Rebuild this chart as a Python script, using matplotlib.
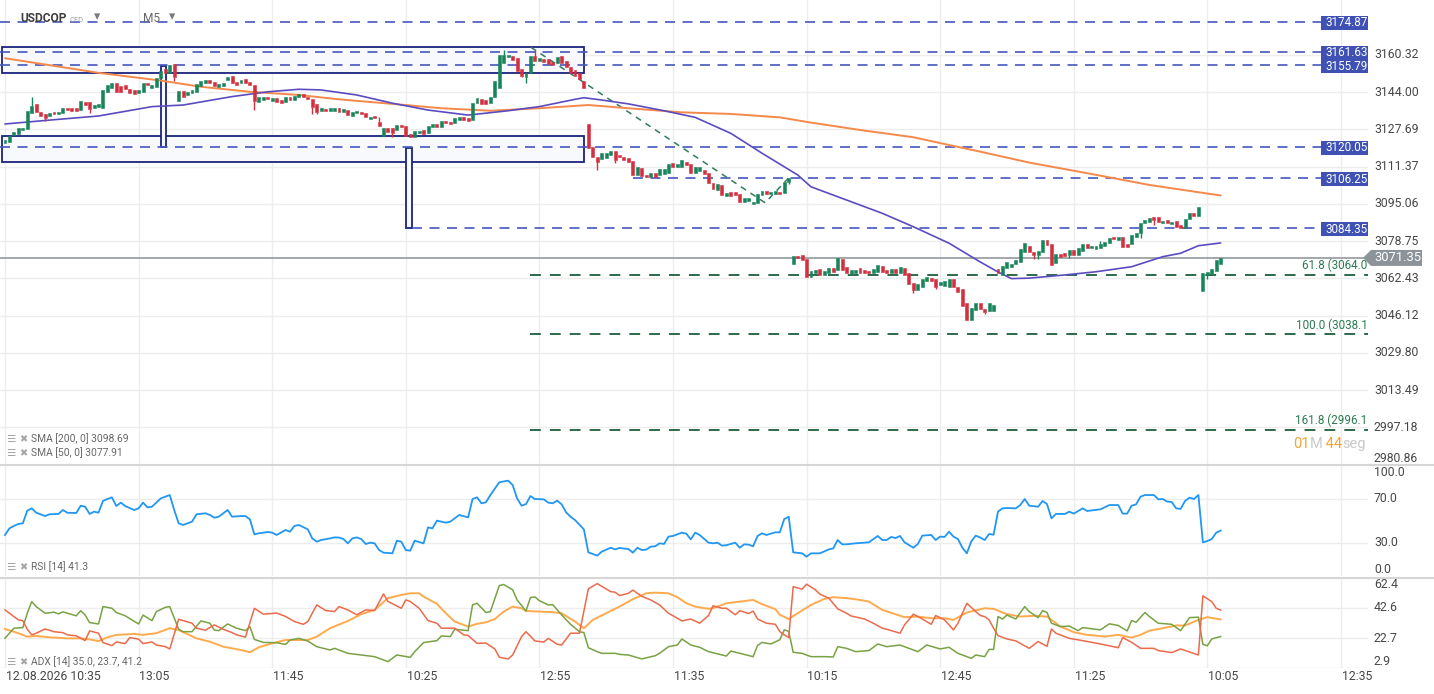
import numpy as np
import matplotlib
matplotlib.use("Agg")
import matplotlib.pyplot as plt
from matplotlib.patches import Rectangle, Polygon
from matplotlib.lines import Line2D
from matplotlib.transforms import blended_transform_factory as blend

plt.rcParams['font.family'] = ['Roboto', 'DejaVu Sans']

# ---------------------------------------------------------------- data
symbol = "USDCOP"
instrument = "CFD"
timeframe = "M5"
tick_bars = [0, 30, 60, 90, 120, 150, 180, 210, 240, 270, 300]
tick_labels = ["12.08.2026 10:35", "13:05", "11:45", "10:25", "12:55", "11:35",
               "10:15", "12:45", "11:25", "10:05", "12:35"]

opens = [
    3121.5, 3122.0, 3125.2, 3125.5, 3127.4, 3127.7, 3134.7, 3138.6, 3135.4, 3134.2,
    3133.5, 3135.1, 3134.2, 3134.7, 3137.1, 3137.1, 3136.9, 3136.1, 3139.5, 3139.8,
    3136.9, 3137.6, 3137.1, 3144.1, 3145.9, 3147.8, 3146.6, 3147.1, 3145.3, 3144.9,
    3143.4, 3144.1, 3148.1, 3145.9, 3146.3, 3150.0, 3154.0, 3152.5, 3156.3, 3140.2,
    3144.4, 3142.7, 3143.4, 3144.1, 3146.8, 3147.8, 3149.3, 3148.4, 3146.1, 3146.6,
    3149.3, 3151.0, 3148.5, 3147.8, 3149.6, 3148.5, 3147.1, 3139.8, 3140.5, 3141.7,
    3140.1, 3141.2, 3140.5, 3139.8, 3141.9, 3140.5, 3141.7, 3143.1, 3141.9, 3140.8,
    3138.6, 3135.7, 3136.6, 3135.8, 3135.7, 3136.9, 3135.4, 3136.1, 3133.5, 3134.7,
    3135.4, 3134.9, 3132.0, 3133.5, 3131.0, 3124.7, 3128.1, 3128.1, 3127.4, 3129.6,
    3129.1, 3125.5, 3124.4, 3125.9, 3127.4, 3126.2, 3128.8, 3129.9, 3128.5, 3131.4,
    3131.0, 3130.3, 3131.7, 3133.2, 3132.8, 3131.7, 3139.1, 3140.9, 3140.5, 3139.1,
    3141.7, 3145.6, 3156.8, 3159.2, 3159.8, 3158.8, 3154.0, 3150.7, 3152.2, 3159.8,
    3157.7, 3158.4, 3158.4, 3157.3, 3156.6, 3159.8, 3157.6, 3155.1, 3153.6, 3152.2,
    3149.0, 3130.0, 3120.1, 3115.7, 3114.7, 3115.0, 3116.4, 3118.3, 3116.4, 3115.4,
    3115.0, 3113.9, 3107.7, 3110.6, 3107.7, 3106.9, 3108.4, 3107.7, 3108.1, 3108.4,
    3112.8, 3111.0, 3111.0, 3113.5, 3112.5, 3108.7, 3109.5, 3109.8, 3108.4, 3104.3,
    3101.1, 3103.3, 3098.6, 3100.3, 3100.3, 3099.3, 3096.0, 3096.4, 3094.8, 3095.3,
    3098.9, 3100.8, 3099.2, 3099.2, 3100.3, 3099.6, 3104.7, 3068.7, 3072.2, 3072.6,
    3070.7, 3063.1, 3064.6, 3066.4, 3063.9, 3064.6, 3066.8, 3066.1, 3070.9, 3067.5,
    3064.3, 3064.6, 3066.8, 3066.1, 3065.8, 3064.9, 3065.3, 3067.8, 3066.1, 3064.6,
    3066.4, 3064.6, 3066.8, 3064.6, 3060.2, 3057.3, 3058.7, 3061.4, 3062.4, 3062.0,
    3059.5, 3059.2, 3058.7, 3062.0, 3058.7, 3057.7, 3051.5, 3044.2, 3048.5, 3051.5,
    3048.9, 3047.9, 3047.9, 3066.5, 3063.9, 3067.1, 3067.5, 3068.7, 3069.7, 3073.8,
    3076.6, 3073.8, 3072.6, 3073.8, 3079.2, 3077.3, 3069.0, 3073.0, 3073.4, 3072.6,
    3074.8, 3072.6, 3074.4, 3077.3, 3075.5, 3075.3, 3075.8, 3076.7, 3077.7, 3080.6,
    3079.2, 3080.4, 3077.4, 3077.3, 3080.6, 3082.1, 3086.5, 3086.9, 3089.1, 3089.1,
    3086.5, 3088.0, 3086.1, 3087.6, 3085.8, 3084.3, 3088.4, 3090.9, 3089.8, 3057.0,
    3063.9, 3064.3, 3065.6, 3068.9]
closes = [
    3123.0, 3124.9, 3126.6, 3128.1, 3128.1, 3135.7, 3137.9, 3135.1, 3133.5, 3132.8,
    3134.9, 3134.2, 3135.3, 3137.1, 3136.1, 3135.8, 3135.8, 3140.1, 3138.3, 3136.4,
    3138.3, 3138.7, 3144.9, 3147.1, 3148.1, 3144.1, 3144.1, 3145.2, 3143.4, 3143.1,
    3144.9, 3148.1, 3147.1, 3147.1, 3150.0, 3153.2, 3152.5, 3155.7, 3150.7, 3144.4,
    3142.0, 3144.1, 3144.9, 3147.4, 3149.0, 3149.3, 3148.1, 3146.6, 3147.4, 3148.1,
    3150.7, 3147.8, 3147.1, 3149.3, 3148.1, 3147.1, 3140.2, 3141.7, 3141.7, 3140.8,
    3141.2, 3139.8, 3139.3, 3141.7, 3140.5, 3142.3, 3143.0, 3141.7, 3140.8, 3137.6,
    3135.4, 3136.9, 3135.7, 3136.9, 3137.1, 3135.4, 3136.6, 3133.9, 3135.4, 3135.7,
    3134.4, 3132.9, 3133.2, 3132.5, 3129.1, 3128.4, 3126.6, 3126.2, 3129.6, 3128.5,
    3124.7, 3124.2, 3126.9, 3126.9, 3125.5, 3129.3, 3129.9, 3128.8, 3131.4, 3130.3,
    3129.9, 3132.5, 3133.2, 3131.7, 3131.4, 3139.3, 3141.3, 3138.6, 3138.6, 3141.7,
    3148.8, 3160.2, 3160.2, 3160.2, 3158.0, 3153.3, 3151.0, 3152.2, 3159.8, 3157.7,
    3159.0, 3157.3, 3156.3, 3155.8, 3159.5, 3156.8, 3154.8, 3152.2, 3151.0, 3149.6,
    3145.6, 3119.6, 3115.4, 3113.5, 3117.2, 3117.2, 3118.3, 3114.2, 3115.4, 3114.2,
    3113.5, 3107.7, 3111.0, 3107.2, 3106.7, 3108.4, 3106.9, 3110.2, 3110.2, 3112.5,
    3111.0, 3112.5, 3114.2, 3112.0, 3108.7, 3111.3, 3111.0, 3108.0, 3104.0, 3101.4,
    3103.7, 3098.9, 3099.6, 3098.6, 3098.9, 3096.0, 3097.7, 3097.7, 3096.0, 3099.3,
    3100.8, 3099.2, 3100.1, 3100.8, 3099.2, 3104.7, 3106.5, 3072.2, 3071.2, 3070.4,
    3062.9, 3065.8, 3066.1, 3063.9, 3065.8, 3066.8, 3065.3, 3071.2, 3066.1, 3064.9,
    3066.1, 3066.1, 3064.9, 3064.6, 3064.6, 3066.4, 3068.3, 3065.3, 3064.9, 3066.4,
    3064.9, 3067.2, 3063.9, 3059.9, 3057.3, 3059.9, 3062.0, 3062.9, 3061.4, 3058.7,
    3061.0, 3061.2, 3062.1, 3058.5, 3056.3, 3050.3, 3044.2, 3049.5, 3051.7, 3048.9,
    3047.5, 3051.5, 3050.7, 3064.6, 3067.8, 3069.7, 3068.7, 3070.4, 3075.2, 3077.7,
    3074.1, 3072.6, 3074.4, 3079.2, 3077.0, 3068.3, 3073.0, 3071.9, 3072.3, 3074.8,
    3072.6, 3075.6, 3077.3, 3075.8, 3076.7, 3076.7, 3077.3, 3078.2, 3079.9, 3079.6,
    3080.4, 3076.3, 3076.3, 3081.4, 3082.1, 3086.5, 3088.0, 3088.7, 3088.0, 3086.9,
    3087.5, 3086.5, 3087.2, 3084.8, 3084.3, 3088.4, 3090.9, 3089.7, 3093.5, 3064.6,
    3065.1, 3066.5, 3070.4, 3071.35]
wick_high = {6: 3141.7, 84: 3132.9, 112: 3162.4, 119: 3162.4, 246: 3078.8}
wick_low = {9: 3131.3, 19: 3134.7, 38: 3149.0, 56: 3136.1, 69: 3134.4, 70: 3134.4,
            87: 3124.4, 116: 3150.4, 117: 3148.1, 133: 3109.9, 137: 3112.8,
            176: 3103.7, 204: 3056.1, 209: 3057.7, 220: 3046.8, 231: 3070.9,
            232: 3070.9, 239: 3071.4, 255: 3080.1, 258: 3085.8, 270: 3062.0}

sma200_bar = [0, 21, 35, 44, 55, 66, 75, 87, 98, 109, 120, 131, 140, 152, 163, 174,
              181, 193, 204, 212, 219, 230, 244, 257, 273]
sma200_val = [3158.8, 3152.4, 3149.0, 3146.3, 3144.1, 3142.7, 3140.8, 3138.8, 3136.9,
              3135.8, 3136.9, 3138.3, 3136.9, 3135.1, 3134.4, 3132.9, 3130.6, 3127.1,
              3124.2, 3120.8, 3117.9, 3113.1, 3108.1, 3103.3, 3098.69]
sma50_bar = [0, 10, 21, 33, 40, 51, 59, 66, 71, 79, 87, 95, 104, 113, 120, 128, 130,
             134, 140, 148, 155, 163, 170, 178, 181, 189, 197, 204, 212, 219, 223, 226,
             230, 238, 245, 253, 260, 264, 268, 273]
sma50_val = [3130.0, 3131.7, 3133.5, 3137.6, 3138.3, 3142.0, 3144.1, 3145.2, 3144.9,
             3142.7, 3139.1, 3136.1, 3133.9, 3135.8, 3137.6, 3140.8, 3141.5, 3140.5,
             3138.8, 3135.8, 3132.9, 3125.9, 3117.2, 3107.7, 3102.5, 3096.7, 3090.9,
             3085.0, 3077.8, 3069.6, 3065.2, 3062.3, 3062.5, 3063.9, 3065.3, 3067.5,
             3071.9, 3073.4, 3076.7, 3077.91]

price_ticks = [3160.32, 3144.00, 3127.69, 3111.37, 3095.06, 3078.75, 3062.43,
               3046.12, 3029.80, 3013.49, 2997.18, 2980.86]
levels = [3174.87, 3161.63, 3155.79, 3120.05, 3106.25, 3084.35]
level_from = [-1.1, -1.1, -1.1, -1.1, 141.0, 91.4]
zones = [(-0.7, 130.1, 3152.3, 3163.8), (-0.7, 130.1, 3113.5, 3124.6),
         (35.1, 36.2, 3120.1, 3155.4), (90.0, 91.4, 3084.5, 3119.6)]
trend_bar = [118.1, 170.7, 175.9]
trend_price = [3163.6, 3095.5, 3106.2]
fib_names = ["61.8", "100.0", "161.8"]
fib_levels = [3064.0, 3038.1, 2996.1]
fib_from = 118.0
last_price = 3071.35
sma200_last, sma50_last = 3098.69, 3077.91
countdown = [("01", "o"), ("M", "g"), (" 44", "o"), ("seg", "g")]

rsi_pts = [(0,37.3),(1,43.3),(2,45.5),(3,47.3),(4,47.9),(5,59.4),(6,61.5),(7,57.6),(9,54.5),
    (10,56.1),(12,56.4),(13,60),(14,57.5),(16,57.3),(17,63.9),(18,63),(19,56.4),(20,58.5),
    (21,57.6),(22,68.2),(23,70),(24,71.5),(25,63.6),(26,66.7),(27,63.6),(29,60),(30,61.5),
    (31,66.7),(32,62.4),(33,63),(35,70.6),(36,72.1),(37,73.6),(38,60),(39,47.9),(40,46.4),
    (42,49.4),(43,56.1),(45,57),(46,55.5),(47,53.0),(48,53.9),(50,60),(51,53.9),(53,54.5),
    (54,54.5),(55,51.5),(56,37.9),(57,38.8),(59,40),(60,39.4),(61,37.3),(63,41.8),(64,40.3),
    (65,45.5),(66,46.4),(68,42.4),(69,34.2),(70,31.2),(71,32.7),(73,34.2),(74,35.1),(75,35),
    (76,33.6),(77,29.7),(78,34.2),(79,35.1),(80,33.6),(81,29.1),(82,30.3),(83,29.7),(84,23.6),
    (85,21.2),(87,20.6),(88,32.1),(89,31.2),(90,23.6),(91,23.0),(92,32.1),(94,29.7),(95,44.2),
    (96,43.3),(97,50.3),(99,48.5),(100,49.4),(102,55.5),(104,53.3),(105,70),(106,71.5),
    (107,66.1),(108,67),(109,73.6),(111,85.2),(113,86.7),(114,82.7),(115,70.6),(116,63.9),
    (117,65.4),(118,72.7),(119,70),(121,69.7),(122,66.7),(123,66.1),(124,68.5),(125,65.2),
    (126,57.9),(127,53.9),(128,50.9),(130,42.4),(131,21.5),(133,18.5),(134,22.1),(136,25.7),
    (137,24.2),(138,25.5),(140,24.5),(141,21.2),(142,25.7),(143,23.6),(144,24),(145,26.7),
    (146,27),(147,29.7),(148,29.1),(149,35.8),(150,36.4),(152,39.4),(153,38.5),(154,33.3),
    (155,39.4),(156,37.3),(158,30.3),(159,29.7),(160,30.3),(161,27.6),(162,28),(164,30.3),
    (165,25.7),(166,28.8),(167,28.5),(168,27),(169,36.4),(170,38.8),(171,37.3),(173,39.7),
    (174,39.7),(175,51.8),(176,53.9),(177,21.5),(179,20.6),(180,17.6),(181,20.6),(183,20.6),
    (185,24.2),(186,25.1),(187,32.7),(188,28.8),(189,28.8),(191,29.7),(194,30.6),(196,36.4),
    (197,32.7),(198,32.7),(199,35.5),(200,34.5),(201,36.4),(202,30.6),(204,25.7),(205,29.1),
    (206,36.7),(208,37.3),(209,32.7),(210,35.8),(211,35.5),(212,40.3),(213,35.8),(214,33.6),
    (215,25.7),(216,20.6),(217,31.5),(218,36.7),(219,35),(220,32.7),(221,38.2),(222,37.5),
    (223,58.5),(224,61.5),(225,61.8),(227,61.5),(228,64.5),(229,70),(230,63.9),(232,63),
    (233,68.2),(234,65.4),(235,52.4),(236,56.4),(238,56.4),(239,58.5),(240,56.7),(242,61.5),
    (243,59.1),(246,60.6),(248,64.5),(250,64.5),(251,56.7),(252,56.7),(253,63.9),(254,65.1),
    (255,72.1),(256,73.6),(258,73.6),(259,69.7),(260,70),(261,67.6),(262,67.3),(263,61.5),
    (264,61),(265,68.2),(266,71.2),(267,70),(268,73.6),(269,30.6),(270,31.8),(271,33.6),
    (272,39.4),(273,41.3)]
rsi_ticks = [100.0, 70.0, 30.0, 0.0]
rsi_last = 41.3

adx_bar = [0,3,5,7,10,14,17,19,21,23,25,29,31,34,37,39,43,46,49,53,55,57,60,63,66,68,70,73,
    77,80,83,86,89,91,93,94,97,99,101,104,106,108,110,112,114,116,117,120,123,125,128,130,
    132,135,138,141,144,146,149,151,153,155,158,159,162,165,168,170,173,174,176,178,181,184,
    186,189,192,194,197,202,205,208,211,213,216,220,222,225,228,231,234,237,240,243,247,250,
    253,255,257,260,263,265,268,270,273]
adx_val = [28.7,25.9,23.6,24.1,23.2,22.5,22.5,21.8,20.7,23.2,24.8,25.4,24.8,25.9,29.2,28,
    22.5,20.3,17,14.8,13.3,16.6,19.2,21.4,21.4,21.4,23.6,29.2,34,38.5,41.3,49.1,51.2,52.3,
    52.3,50.1,45.3,39.1,33.6,30.3,32.1,33.1,35.3,40.2,43.5,42.4,40.6,40.2,39.8,39.1,33.6,
    29.2,34.7,39.1,43.5,48.4,52.3,52.7,52.3,49.7,45.7,43.5,42,42.5,45.7,46.8,47.9,45.1,41.8,
    38.1,35.3,39.1,44.6,48.6,49.7,49.1,47.9,46.8,41.3,36.5,36.9,35.8,35.8,34.7,39.6,42.4,42,
    38.5,36.9,37.4,36.9,30.3,26.6,24.8,23.7,24.8,23,24.8,27.6,29.2,31,31,34.7,36.5,35.0]
mdi_bar = [0,2,3,4,5,6,7,9,11,13,14,16,18,19,21,22,24,25,27,28,30,31,33,34,36,37,39,42,43,
    45,47,49,51,52,54,56,58,61,63,65,67,68,70,72,74,75,77,79,81,83,85,86,89,90,91,93,95,97,
    98,101,103,104,106,108,110,111,113,114,116,117,119,120,121,122,124,125,127,129,131,133,
    136,137,138,140,141,143,145,147,149,151,152,154,156,158,159,161,162,164,165,167,168,169,
    171,173,174,175,176,177,179,180,182,183,185,187,189,190,193,195,197,198,201,202,204,206,
    208,209,211,213,214,216,218,219,220,221,222,223,225,227,230,232,234,235,236,239,242,246,
    250,251,253,255,258,259,262,264,268,269,271,272,273]
mdi_val = [41.3,36.9,34.7,34.2,28.5,24.8,25.9,28.7,26.9,26.3,24.8,24.2,21,27.4,25.9,19.7,
    17.7,20.1,19.0,23,22,19.0,20.1,18.1,17,15.5,35.1,32.5,29.2,27.9,31.4,28.5,26.3,24.8,23.3,
    42.4,38.5,39.2,37,33.6,31.8,33.6,44.6,40.9,40.2,43.5,41.3,38.1,41.3,40.9,51.9,46.9,42.4,
    47.9,46.9,42.4,34.2,32.5,29.2,29.2,24.8,24.4,19.2,19.4,15.5,10,8.9,11.5,23.6,26.9,20.8,
    20.4,20.1,22.5,18.6,18.1,25.9,25.9,55.2,58.7,53.4,53,50.8,52.3,54.4,50.3,47.9,44.6,39.1,
    35.8,34,35.3,32.5,37.6,44,42.4,42.4,38.1,40.8,38.9,40.5,35.3,32.5,31.8,26.9,24.8,23,56.7,
    55.0,58.3,54.6,51.7,49.1,42,39.1,37.3,35.3,32.5,29.2,28.5,25.9,31.4,38.5,35.3,31.8,37.6,
    34.7,28.1,32.5,45.7,40.2,37.6,36.9,34.7,29.2,24.3,22.1,20.8,15.9,20.4,17.2,28.7,25.9,
    22.5,21,18.8,16.3,23,19.9,15.9,15.9,14.4,13.1,15.5,11.5,50.6,46.8,42.4,41.2]
pdi_bar = [0,2,4,5,6,7,9,11,12,13,16,17,18,19,21,22,24,25,27,30,31,33,34,36,37,39,40,42,
    44,46,47,48,50,52,54,55,56,58,61,63,64,66,68,70,73,74,77,80,83,86,88,91,92,94,97,98,100,
    101,104,105,106,108,109,111,112,114,115,117,118,119,120,122,123,125,127,129,130,131,133,
    134,137,138,140,143,146,147,149,151,152,154,156,158,162,163,166,168,169,170,172,174,175,
    176,177,179,181,184,186,187,189,191,194,196,198,201,205,207,210,212,214,217,218,220,221,
    222,223,224,225,227,229,230,232,233,234,235,237,239,241,242,246,248,250,252,253,254,256,
    257,259,262,264,266,268,269,270,271,273]
pdi_val = [22.6,29.2,29.6,39.1,46.8,43.5,39.1,39.8,38.7,40,37.4,40.8,37.9,32.9,32,43.5,
    42.4,39.6,37.4,32,37.9,34.2,40.2,43.0,43.5,28.5,26.9,26.9,34,32.5,28,27.6,32,29.2,27.6,
    30.2,21.8,19.8,19.6,18.5,21.4,22.5,20.7,17,14.8,15.9,12.6,11.5,10.4,7.1,11.5,10,13.7,
    19.7,21,24.1,23.7,28.5,27.6,44.6,45.7,39.6,40.2,57.4,58.1,54.6,47.9,40.6,49.5,49.9,47.4,
    44.6,44.8,38,31.8,26.9,26.3,16.3,13.7,12.6,12.6,11.9,11.5,8.9,11,12.6,17,18.1,22.1,18.1,
    16.6,13.7,10.8,14.1,11.9,10.4,17.8,19.8,18.8,21.6,28.1,27.1,13.3,12.6,10.4,10.4,10.2,17,
    15.9,13.7,14.4,18.8,17,18.1,13.7,18.1,15.5,16.6,12.6,9.3,11.5,10.4,15.2,15.2,36.9,35.3,
    37.9,35.3,43.5,40.2,36.2,40.8,39.6,32.5,30.3,30.6,27.6,29.6,28.1,32.1,31,27.4,34.3,33.1,
    39.6,36.9,32.5,31.8,27.6,36.2,36.5,18.5,17.6,22.1,23.7]
adx_ticks = [62.4, 42.6, 22.7, 2.9]
adx_last = (35.0, 23.7, 41.2)

assert len(opens) == len(closes)
assert len(adx_bar) == len(adx_val) and len(mdi_bar) == len(mdi_val) and len(pdi_bar) == len(pdi_val)

# ---------------------------------------------------------------- style
GREEN, RED = '#17855a', '#d32f3f'
ORANGE_SMA, PURPLE_SMA = '#f5894a', '#5a4cc0'
LEVEL_BLUE, TAG_BLUE = '#4557c0', '#3f51b5'
NAVY = '#1a237e'
FIB_GREEN, FIB_TXT = '#1b5e3b', '#2b7a50'
GRID = '#ededed'
TXT = '#474747'
FS = 8.8

W, H = 1434, 694
fig = plt.figure(figsize=(W / 100, H / 100), dpi=100)
fig.patch.set_facecolor('white')

BAR_PX = 4.453
X0 = -5 / BAR_PX
X1 = (1368 - 5) / BAR_PX
PLOT_W = 1368 / W


def add_panel(top, bottom):
    a = fig.add_axes([0, 1 - bottom / H, PLOT_W, (bottom - top) / H])
    a.set_xlim(X0, X1)
    a.axis('off')
    for b in tick_bars:
        a.axvline(b, color=GRID, lw=1, zorder=0)
    return a


ax = add_panel(0, 464.6)
ax_rsi = add_panel(466, 576)
ax_adx = add_panel(578, 668)

YLO, YHI = 2980.86, 3184.29
ax.set_ylim(YLO, YHI)
PPX = (YHI - YLO) / 464.6

# right-hand price scale
tr_main = blend(fig.transFigure, ax.transData)
for i, v in enumerate(price_ticks):
    ax.axhline(v, color=GRID, lw=1, zorder=0)
    va = 'bottom' if i == len(price_ticks) - 1 else 'center'
    ax.text(1374 / W, v, f'{v:.2f}', transform=tr_main, ha='left', va=va,
            fontsize=FS, color=TXT)

# zones
for b0, b1, p0, p1 in zones:
    ax.add_patch(Rectangle((b0, p0), b1 - b0, p1 - p0, facecolor='#f8f9fd',
                           edgecolor=NAVY, lw=1.3, zorder=1.5))

# horizontal levels with tags
TAG_B0 = (1321 - 5) / BAR_PX
for lv, b0 in zip(levels, level_from):
    ax.plot([max(b0, X0), X1], [lv, lv], color=LEVEL_BLUE, lw=1.2,
            dashes=(6, 4.5), zorder=2)
    yc = lv - 1.0 * PPX
    ax.add_patch(Rectangle((TAG_B0, yc - 7 * PPX), X1 - TAG_B0, 14 * PPX,
                           facecolor=TAG_BLUE, edgecolor='none', zorder=6))
    ax.text(TAG_B0 + 1.0, yc, f'{lv:.2f}', color='white', fontsize=8.4,
            ha='left', va='center', zorder=7, clip_on=True)

# fibonacci levels
for name, lv in zip(fib_names, fib_levels):
    ax.plot([fib_from, X1], [lv, lv], color=FIB_GREEN, lw=1.3, dashes=(6, 5), zorder=2)
    ax.text(X1 - 0.1, lv + 9 * PPX, f'{name} ({lv:.1f}', ha='right', va='center',
            fontsize=8.4, color=FIB_TXT, zorder=5)

# trend line
ax.plot(trend_bar, trend_price, color='#2e7d5b', lw=1.1, dashes=(4, 3.5), zorder=2.2)

# last price line
ax.axhline(last_price, color='#8a9096', lw=1.1, zorder=2.5)

# moving averages
ax.plot(sma200_bar, sma200_val, color=ORANGE_SMA, lw=1.4, zorder=3, solid_capstyle='round')
ax.plot(sma50_bar, sma50_val, color=PURPLE_SMA, lw=1.2, zorder=3, solid_capstyle='round')

# candles
o = np.array(opens)
c = np.array(closes)
bars = np.arange(len(o))
up = c >= o
cols = np.where(up, GREEN, RED)
body_lo = np.minimum(o, c)
body_h = np.maximum(np.abs(c - o), 0.4)
for k, v in wick_high.items():
    ax.vlines(k, max(o[k], c[k]), v, color=cols[k], lw=1, zorder=3.5)
for k, v in wick_low.items():
    ax.vlines(k, v, min(o[k], c[k]), color=cols[k], lw=1, zorder=3.5)
ax.bar(bars, body_h, bottom=body_lo, width=0.66, color=cols, edgecolor=cols,
       linewidth=0.4, zorder=4)

# last price tag (outside plot, on scale)
h8 = 8 * PPX
tag = Polygon([(1363 / W, last_price), (1371 / W, last_price + h8), (1422 / W, last_price + h8),
               (1422 / W, last_price - h8), (1371 / W, last_price - h8)], closed=True,
              transform=tr_main, facecolor='#8c9399', edgecolor='none', clip_on=False, zorder=8)
ax.add_patch(tag)
ax.text(1374 / W, last_price, f'{last_price:.2f}', transform=tr_main, ha='left',
        va='center', fontsize=9.4, color='white', zorder=9)


def fy(py):
    return 1 - py / H


# title
fig.text(20 / W, fy(19), symbol, fontsize=8.6, weight='bold', color='#3d3d3d', va='center')
fig.text(70 / W, fy(19.5), instrument, fontsize=5.5, color='#a0a0a0', va='center')
fig.text(94 / W, fy(17), '▾', fontsize=9, color='#7a7a7a', va='center')
fig.text(143 / W, fy(19), timeframe, fontsize=8.6, color='#666666', va='center')
fig.text(169 / W, fy(17), '▾', fontsize=9, color='#7a7a7a', va='center')


# legends
def legend(py, text):
    fig.text(6 / W, fy(py), '☰', fontsize=7.5, color='#a5a5a5', va='center')
    fig.text(19 / W, fy(py), '✖', fontsize=7, color='#a5a5a5', va='center')
    fig.text(31 / W, fy(py), text, fontsize=7.4, color='#666666', va='center')


legend(439, f'SMA [200, 0] {sma200_last:.2f}')
legend(453, f'SMA [50, 0] {sma50_last:.2f}')
legend(567, f'RSI [14] {rsi_last:.1f}')
legend(662, 'ADX [14] ' + ', '.join(f'{v:.1f}' for v in adx_last))

# countdown
fig.canvas.draw()
renderer = fig.canvas.get_renderer()
xr = 1366
for txt, kind in reversed(countdown):
    t = fig.text(xr / W, fy(444), txt, fontsize=10.5, ha='right', va='center',
                 color='#f5a332' if kind == 'o' else '#c9c9c9')
    w = t.get_window_extent(renderer).width
    xr -= w

# RSI panel
ax_rsi.set_ylim(0, 100)
tr_rsi = blend(fig.transFigure, ax_rsi.transData)
for v in rsi_ticks:
    if 0 < v < 100:
        ax_rsi.axhline(v, color=GRID, lw=1, zorder=0)
    va = 'top' if v == 100 else ('bottom' if v == 0 else 'center')
    ax_rsi.text(1374 / W, v, f'{v:.1f}', transform=tr_rsi, ha='left', va=va,
                fontsize=FS, color=TXT)
rb, rv = zip(*rsi_pts)
ax_rsi.plot(rb, rv, color='#2196f3', lw=1.3, zorder=3)

# ADX panel
ax_adx.set_ylim(2.9, 62.4)
tr_adx = blend(fig.transFigure, ax_adx.transData)
for v in adx_ticks:
    if v < 62.4:
        ax_adx.axhline(v, color=GRID, lw=1, zorder=0)
    va = 'top' if v == 62.4 else ('bottom' if v == 2.9 else 'center')
    ax_adx.text(1374 / W, v, f'{v:.1f}', transform=tr_adx, ha='left', va=va,
                fontsize=FS, color=TXT)
ax_adx.plot(adx_bar, adx_val, color='#ffaa4d', lw=1.4, zorder=3)
ax_adx.plot(pdi_bar, pdi_val, color='#78a243', lw=1.1, zorder=3)
ax_adx.plot(mdi_bar, mdi_val, color='#ec6a4c', lw=1.1, zorder=3)

# x labels
tr_x = blend(ax_adx.transData, fig.transFigure)
for b, lab in zip(tick_bars, tick_labels):
    ax_adx.text(b + 0.2, fy(676), lab, transform=tr_x, ha='left', va='center',
                fontsize=FS, color=TXT)

# panel separators and handles
for py in (464.8, 578.0):
    fig.add_artist(Line2D([0, 1], [fy(py), fy(py)], color='#d6d6d6', lw=1.5))
    fig.add_artist(Rectangle((718 / W, fy(py) - 1.2 / H), 10 / W, 2.4 / H,
                             facecolor='#b8b8b8', edgecolor='none'))

fig.savefig('out.png', dpi=100, facecolor='white')
